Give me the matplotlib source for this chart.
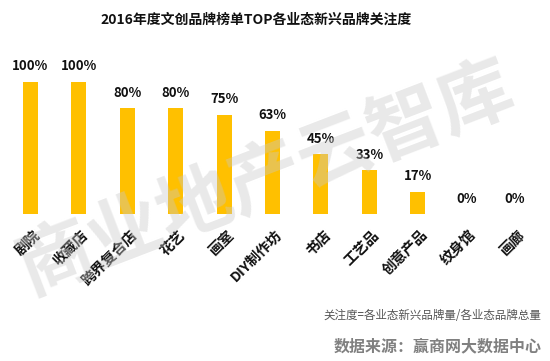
import matplotlib
matplotlib.use("Agg")
import matplotlib.pyplot as plt

plt.rcParams['font.family'] = ['Noto Sans CJK SC', 'DejaVu Sans']

# 各业态关注度
categories = ["剧院", "收藏店", "跨界复合店", "花艺", "画室", "DIY制作坊",
              "书店", "工艺品", "创意产品", "纹身馆", "画廊"]
values = [100, 100, 80, 80, 75, 63, 45, 33, 17, 0, 0]
title = "2016年度文创品牌榜单TOP各业态新兴品牌关注度"
note = "关注度=各业态新兴品牌量/各业态品牌总量"
source = "数据来源：赢商网大数据中心"
watermark = "商业地产云智库"

fig = plt.figure(figsize=(5.5, 3.61), dpi=100)
fig.patch.set_facecolor("white")

ax = fig.add_axes([0.0109, 0.4072, 0.969, 0.3665])
x = list(range(len(categories)))
bars = ax.bar(x, values, width=0.31, color="#FFC000", zorder=2)
ax.set_xlim(-0.5, len(categories) - 0.5)
ax.set_ylim(0, 100)

for b, v in zip(bars, values):
    ax.annotate("{}%".format(v), (b.get_x() + b.get_width() / 2, v),
                xytext=(0, 6), textcoords="offset points",
                ha="center", va="bottom", fontsize=9.5, fontweight="bold",
                color="#111111", annotation_clip=False)

# 类别标签（斜45度）
for i, cat in zip(x, categories):
    ax.annotate(cat, (i, 0), xytext=(2, -10), textcoords="offset points",
                rotation=45, ha="right", va="top", rotation_mode="anchor",
                fontsize=10.3, fontweight="bold", color="#111111",
                annotation_clip=False)

ax.set_xticks([])
ax.set_yticks([])
for s in ax.spines.values():
    s.set_visible(False)

fig.text(0.466, 0.945, title, ha="center", va="center",
         fontsize=10, fontweight="bold", color="#111111")

# 水印
fig.text(0.485, 0.505, watermark, ha="center", va="center", rotation=21,
         fontsize=54, fontweight="bold", color="#c8c8c8", alpha=0.4,
         zorder=5)

fig.text(0.985, 0.125, note, ha="right", va="center",
         fontsize=8.3, color="#555555")
fig.text(0.985, 0.04, source, ha="right", va="center",
         fontsize=11.5, color="#808080", fontweight="bold")

fig.savefig("out.png", dpi=100, facecolor="white")
